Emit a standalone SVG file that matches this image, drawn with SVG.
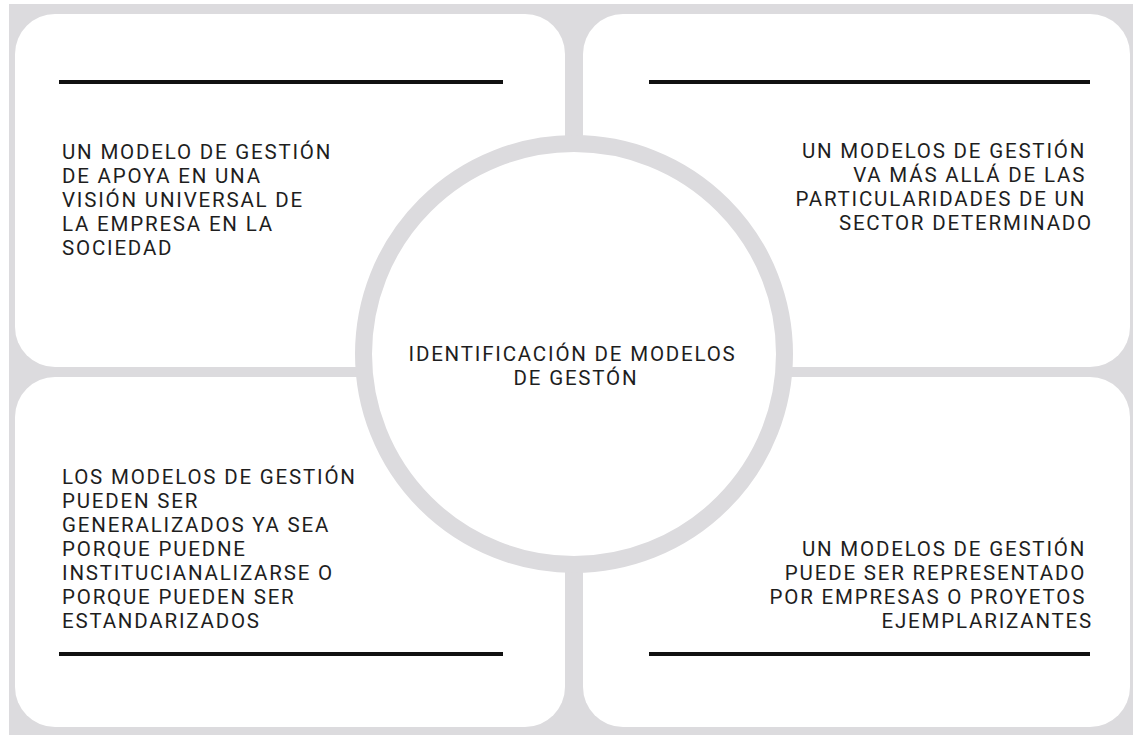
<svg xmlns="http://www.w3.org/2000/svg" width="1133" height="735" viewBox="0 0 1133 735">
  <style>
    .box { fill: #ffffff; }
    .rule { stroke: #111111; stroke-width: 4; }
    .txt { font-family: Roboto, "Liberation Sans", sans-serif; font-size: 20.5px; letter-spacing: 1.8px; fill: #1e1e1e; }
    .end { text-anchor: end; }
    .mid { text-anchor: middle; }
    .ring { fill: #ffffff; stroke: #dcdbde; stroke-width: 17; }
  </style>
  <rect x="0" y="0" width="1133" height="735" fill="#ffffff"/>
  <rect x="9" y="4" width="1124" height="731" fill="#dcdbde"/>

  <g id="box-top-left">
    <rect class="box" x="15" y="14" width="550" height="353" rx="40" ry="40"/>
    <line class="rule" x1="59" y1="82" x2="503" y2="82"/>
    <text class="txt">
      <tspan x="62" y="159">UN MODELO DE GESTIÓN</tspan>
      <tspan x="62" y="183">DE APOYA EN UNA</tspan>
      <tspan x="62" y="207">VISIÓN UNIVERSAL DE</tspan>
      <tspan x="62" y="231">LA EMPRESA EN LA</tspan>
      <tspan x="62" y="255">SOCIEDAD</tspan>
    </text>
  </g>

  <g id="box-top-right">
    <rect class="box" x="583" y="14" width="547" height="353" rx="40" ry="40"/>
    <line class="rule" x1="649" y1="82" x2="1090" y2="82"/>
    <text class="txt end">
      <tspan x="1093" y="158">UN MODELOS DE GESTIÓN</tspan>
      <tspan x="1093" y="182">VA MÁS ALLÁ DE LAS</tspan>
      <tspan x="1093" y="206">PARTICULARIDADES DE UN</tspan>
      <tspan x="1093" y="230">SECTOR DETERMINADO</tspan>
    </text>
  </g>

  <g id="box-bottom-left">
    <rect class="box" x="15" y="377" width="550" height="350" rx="40" ry="40"/>
    <line class="rule" x1="59" y1="654" x2="503" y2="654"/>
    <text class="txt">
      <tspan x="62" y="484">LOS MODELOS DE GESTIÓN</tspan>
      <tspan x="62" y="508">PUEDEN SER</tspan>
      <tspan x="62" y="532">GENERALIZADOS YA SEA</tspan>
      <tspan x="62" y="556">PORQUE PUEDNE</tspan>
      <tspan x="62" y="580">INSTITUCIANALIZARSE O</tspan>
      <tspan x="62" y="604">PORQUE PUEDEN SER</tspan>
      <tspan x="62" y="628">ESTANDARIZADOS</tspan>
    </text>
  </g>

  <g id="box-bottom-right">
    <rect class="box" x="583" y="377" width="547" height="350" rx="40" ry="40"/>
    <line class="rule" x1="649" y1="654" x2="1090" y2="654"/>
    <text class="txt end">
      <tspan x="1093" y="556">UN MODELOS DE GESTIÓN</tspan>
      <tspan x="1093" y="580">PUEDE SER REPRESENTADO</tspan>
      <tspan x="1093" y="604">POR EMPRESAS O PROYETOS</tspan>
      <tspan x="1093" y="628">EJEMPLARIZANTES</tspan>
    </text>
  </g>

  <g id="connectors"></g>

  <g id="center">
    <circle class="ring" cx="574" cy="354" r="210.5"/>
    <text class="txt mid">
      <tspan x="576" y="361">IDENTIFICACIÓN DE MODELOS</tspan>
      <tspan x="576" y="385">DE GESTÓN</tspan>
    </text>
  </g>
</svg>
